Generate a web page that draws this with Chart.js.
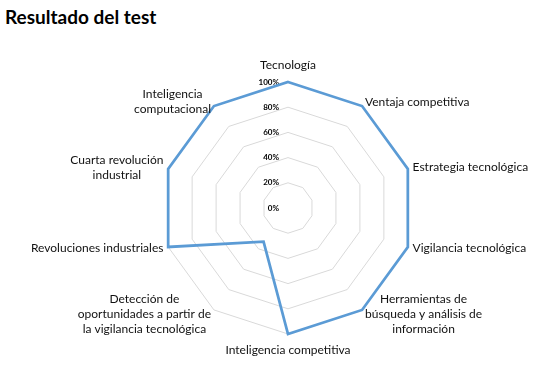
<!DOCTYPE html>
<html>
<head>
<meta charset="utf-8">
<script src="https://cdn.jsdelivr.net/npm/chart.js@4/dist/chart.umd.min.js"></script>
<style>
    html, body { margin: 0; padding: 0; background: #fff; }
    #wrap { position: relative; width: 544px; height: 392px; }
    #titulo {
        position: absolute; left: 5px; top: 6px;
        font: bold 19px Lato, sans-serif; line-height: 22px; color: #000;
    }
    canvas { position: absolute; left: 0; top: 0; }
</style>
</head>
<body>
<div id="wrap">
    <div id="titulo">Resultado del test</div>
    <canvas id="radar" width="544" height="392"></canvas>
</div>
<script>
// Datos del gráfico
const categorias = [
    ['Tecnología'],
    ['Ventaja competitiva'],
    ['Estrategia tecnológica'],
    ['Vigilancia tecnológica'],
    ['Herramientas de', 'búsqueda y análisis de', 'información'],
    ['Inteligencia competitiva'],
    ['Detección de', 'oportunidades a partir de', 'la vigilancia tecnológica'],
    ['Revoluciones industriales'],
    ['Cuarta revolución', 'industrial'],
    ['Inteligencia', 'computacional']
];
const resultados = [100, 100, 100, 100, 100, 100, 33, 100, 100, 100];
const tickValores = [0, 20, 40, 60, 80, 100];

// Etiquetas de los ejes y de la escala, centradas como en Excel
const etiquetasPlugin = {
    id: 'etiquetas',
    beforeDatasetsDraw(chart) {
        const scale = chart.scales.r;
        const ctx = chart.ctx;
        ctx.save();
        ctx.font = 'bold 8px Lato, sans-serif';
        ctx.fillStyle = '#000';
        ctx.textAlign = 'right';
        ctx.textBaseline = 'middle';
        tickValores.forEach(v => {
            const d = scale.getDistanceFromCenterForValue(v);
            ctx.fillText(v + '%', scale.xCenter - 9, scale.yCenter - d);
        });
        ctx.restore();
    },
    afterDraw(chart) {
        const scale = chart.scales.r;
        const ctx = chart.ctx;
        const lineH = 15;
        ctx.save();
        ctx.font = '12px Lato, sans-serif';
        ctx.fillStyle = '#111';
        ctx.textBaseline = 'middle';
        categorias.forEach((lines, i) => {
            const esVertical = Math.abs(Math.sin(scale.getIndexAngle(i))) < 0.01;
            const pad = esVertical ? 9 : 5;
            const p = scale.getPointPosition(i, scale.drawingArea + pad);
            const anchos = lines.map(l => ctx.measureText(l).width);
            const w = Math.max(...anchos);
            const h = lines.length * lineH;
            let cx;
            if (p.x > scale.xCenter + 1) cx = p.x + w / 2;
            else if (p.x < scale.xCenter - 1) cx = p.x - w / 2;
            else cx = p.x;
            let top;
            if (esVertical && p.y < scale.yCenter) top = p.y - h;
            else if (esVertical) top = p.y;
            else top = p.y - h / 2;
            ctx.textAlign = 'center';
            lines.forEach((l, k) => ctx.fillText(l, cx, top + lineH * k + lineH / 2));
        });
        ctx.restore();
    }
};

new Chart(document.getElementById('radar'), {
    type: 'radar',
    data: {
        labels: categorias.map(c => c.join(' ')),
        datasets: [{
            label: 'Resultado',
            data: resultados,
            borderColor: '#5b9bd5',
            borderWidth: 2.75,
            borderJoinStyle: 'miter',
            fill: false,
            pointRadius: 0,
            pointHoverRadius: 0,
            tension: 0
        }]
    },
    options: {
        responsive: false,
        animation: false,
        layout: { padding: { top: 82, bottom: 58, left: 162, right: 130 } },
        plugins: {
            legend: { display: false },
            title: { display: false },
            tooltip: { enabled: false }
        },
        scales: {
            r: {
                min: 0,
                max: 100,
                ticks: { stepSize: 20, display: false },
                grid: { color: '#d9d9d9', lineWidth: 1 },
                angleLines: { display: false },
                pointLabels: { display: false }
            }
        }
    },
    plugins: [etiquetasPlugin]
});
</script>
</body>
</html>
